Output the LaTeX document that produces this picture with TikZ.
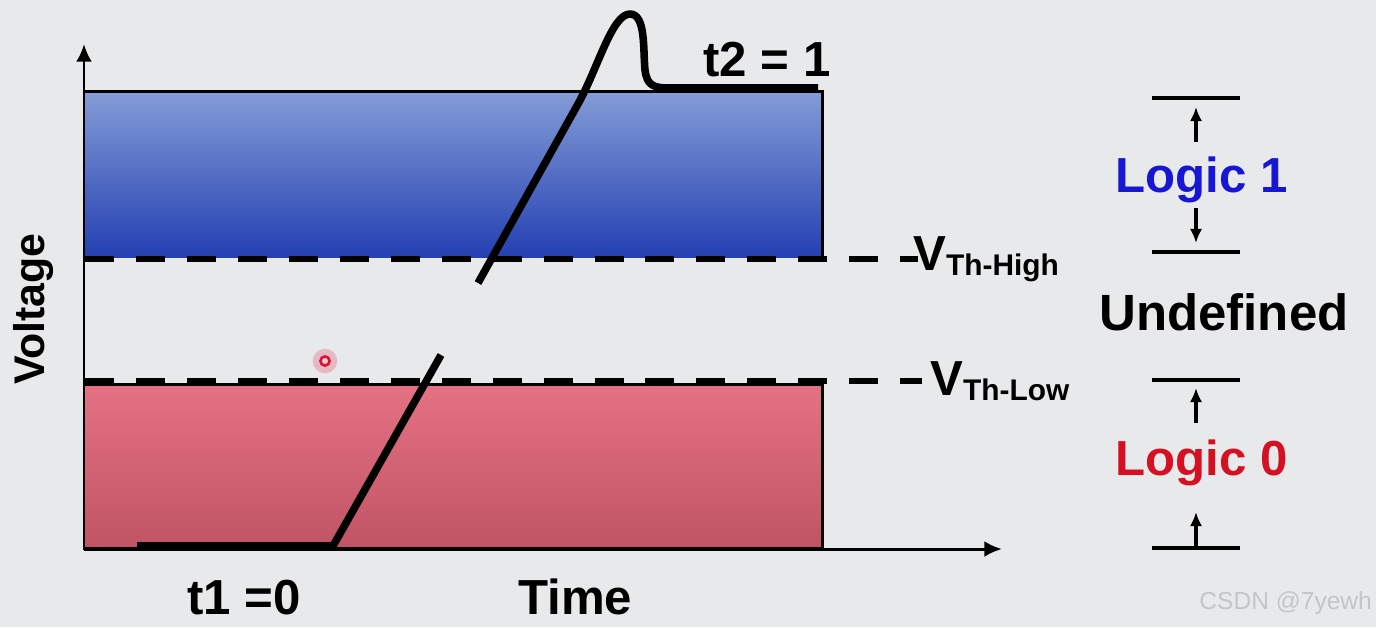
\documentclass[tikz,border=0pt]{standalone}
\usepackage{fontspec}
\setmainfont{Liberation Sans}
\usetikzlibrary{arrows.meta}
\definecolor{bgcol}{RGB}{232,233,235}
\definecolor{hitop}{RGB}{132,156,214}
\definecolor{hibot}{RGB}{36,64,178}
\definecolor{lotop}{RGB}{228,114,132}
\definecolor{lobot}{RGB}{192,84,100}
\definecolor{logicblue}{RGB}{22,22,212}
\definecolor{logicred}{RGB}{212,16,34}
\definecolor{markcol}{RGB}{220,20,50}
\definecolor{wmark}{RGB}{196,197,200}

\begin{document}
\begin{tikzpicture}[x=0.02cm,y=-0.02cm,
  lbl/.style={font=\bfseries\fontsize{28}{30}\selectfont, inner sep=0pt},
  sig/.style={line width=4.3pt, line join=round},
  thresh/.style={line width=3.6pt, dash pattern=on 16.5pt off 12.5pt},
  axis/.style={line width=1.7pt, -{Latex[length=10pt,width=9pt]}},
  bar/.style={line width=1.8pt},
  marker/.style={line width=2pt, -{Latex[length=8pt,width=7pt]}}]
\fill[bgcol] (0,0) rectangle (1376,627);
\useasboundingbox (0,0) rectangle (1376,627);

% logic bands
\shade[top color=hitop, bottom color=hibot] (84,91) rectangle (822,257);
\shade[top color=lotop, bottom color=lobot] (84,384) rectangle (822,548);
\draw[line width=1.7pt] (84,91) -- (822,91) -- (822,257);
\draw[line width=1.7pt] (84,384) rectangle (822,548);

% thresholds
\coordinate (hiL) at (85,259);
\coordinate (hiR) at (918,259);
\coordinate (loL) at (85,381);
\coordinate (loR) at (922,381);
\draw[thresh] (hiL) -- (hiR);
\draw[thresh] (loL) -- (loR);

% axes
\coordinate (O) at (84,549);
\coordinate (ytop) at (84,44);
\coordinate (xend) at (1002,549);
\draw[axis] (O) -- (ytop);
\draw[axis] (O) -- (xend);

% signal
\draw[sig] (137,546) -- (333,546) -- (441,355);
\draw[sig] (478,283) -- (578,104) .. controls (598,68) and (612,14) .. (630,14)
  .. controls (646,14) and (643,50) .. (645,70)
  .. controls (647,86) and (654,88) .. (670,88) -- (818,88);

% pointer mark
\fill[markcol, opacity=0.22] (325,361) circle (7pt);
\draw[markcol, line width=1.5pt, fill=white!80!markcol] (325,361) circle (2.6pt);

% labels
\node[lbl, anchor=base west] (t2) at (703,76) {t2 = 1};
\node[lbl, anchor=base west] (t1) at (187,614) {t1 =0};
\node[lbl, anchor=base west] (time) at (518,614) {Time};
\node[lbl, font=\bfseries\fontsize{24.4}{26}\selectfont, rotate=90, anchor=base] (volt) at (44,309) {Voltage};
\node[lbl, anchor=base west] (vhi) at (913,270)
  {V\raisebox{-3pt}{\fontsize{17}{18}\selectfont Th-High}};
\node[lbl, anchor=base west] (vlo) at (930,395)
  {V\raisebox{-3pt}{\fontsize{17}{18}\selectfont Th-Low}};

% logic levels
\coordinate (b1L) at (1152,98);  \coordinate (b1R) at (1240,98);
\coordinate (b2L) at (1152,252); \coordinate (b2R) at (1240,252);
\coordinate (b3L) at (1152,380); \coordinate (b3R) at (1240,380);
\coordinate (b4L) at (1152,548); \coordinate (b4R) at (1240,548);
\foreach \i in {1,...,4} \draw[bar] (b\i L) -- (b\i R);

\node[lbl, text=logicblue, anchor=base west] (one) at (1115,192) {Logic 1};
\node[lbl, font=\bfseries\fontsize{29}{31}\selectfont, anchor=base west] (undef) at (1099,330) {Undefined};
\node[lbl, text=logicred, anchor=base west] (zero) at (1115,475) {Logic 0};

\coordinate (a1) at (1196,142); \coordinate (a1t) at (1196,107);
\coordinate (a2) at (1196,208); \coordinate (a2t) at (1196,243);
\coordinate (a3) at (1196,423); \coordinate (a3t) at (1196,388);
\coordinate (a4) at (1196,548); \coordinate (a4t) at (1196,512);
\foreach \i in {1,...,4} \draw[marker] (a\i) -- (a\i t);

\node[font=\fontsize{14}{15}\selectfont, text=wmark, anchor=base west, inner sep=0pt] (wm) at (1199,609) {CSDN @7yewh};
\end{tikzpicture}
\end{document}
